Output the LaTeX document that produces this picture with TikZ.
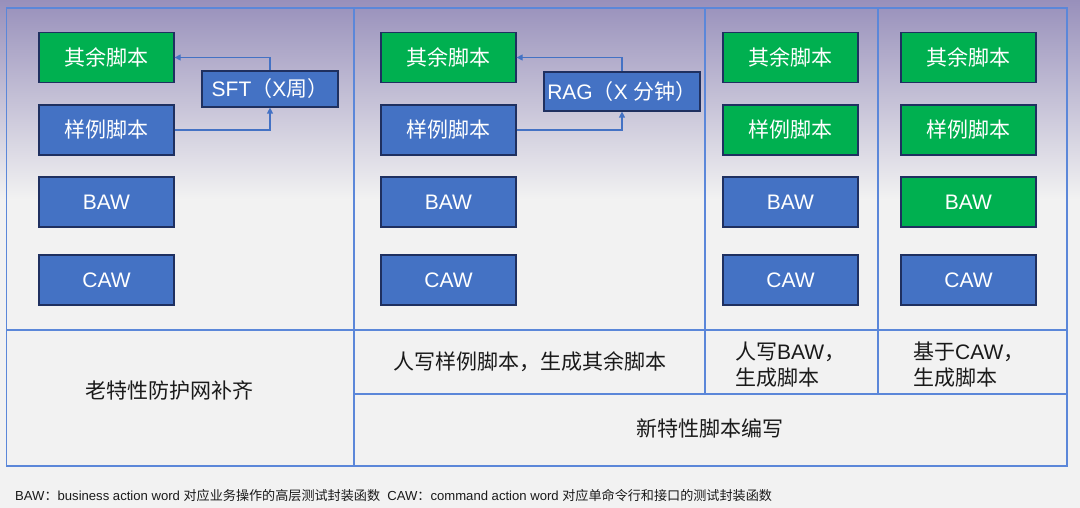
\documentclass[tikz,border=0pt]{standalone}
\usepackage{fontspec}
\setmainfont{Liberation Sans}
\newfontfamily\zh{Noto Sans CJK SC}
\usetikzlibrary{arrows.meta}
\definecolor{bgtop}{HTML}{9890BB}
\definecolor{bgbot}{HTML}{F2F2F2}
\definecolor{gbox}{HTML}{00B050}
\definecolor{bbox}{HTML}{4472C4}
\definecolor{edgec}{HTML}{1F3060}
\definecolor{framec}{HTML}{5B87D9}
\definecolor{connc}{HTML}{4472C4}
\definecolor{txt}{HTML}{1A1A1A}
\begin{document}
\begin{tikzpicture}[x=1pt,y=-1pt,
  scriptbox/.style={draw=edgec,line width=1.2pt,minimum width=135pt,minimum height=50pt,inner sep=0pt,text=white,font=\fontsize{21}{25}\selectfont},
  greenbox/.style={scriptbox,fill=gbox},
  bluebox/.style={scriptbox,fill=bbox},
  toolbox/.style={draw=edgec,line width=1.2pt,fill=bbox,inner sep=0pt,text=white,font=\fontsize{21}{25}\selectfont},
  conn/.style={draw=connc,line width=1.2pt,-{Triangle[length=6pt,width=6pt]}},
  frame/.style={draw=framec,line width=1.5pt},
  label/.style={text=txt,inner sep=0pt,font=\fontsize{21}{26}\selectfont}]
\useasboundingbox (0,0) rectangle (1080,508);
\fill[bgbot] (0,0) rectangle (1080,508);
\shade[top color=bgtop,bottom color=bgbot] (0,0) rectangle (1080,200);
% frame
\draw[frame] (6.5,8) rectangle (1067,466);
\draw[frame] (354,8) -- (354,466);
\draw[frame] (705,8) -- (705,394);
\draw[frame] (878,8) -- (878,394);
\draw[frame] (6.5,330) -- (1067,330);
\draw[frame] (354,394) -- (1067,394);
% column 1
\node[greenbox] (qa) at (106.5,57.5) {\zh 其余脚本};
\node[bluebox] (ea) at (106.5,130) {\zh 样例脚本};
\node[bluebox] (ba) at (106.5,202) {BAW};
\node[bluebox] (ca) at (106.5,280) {CAW};
\node[toolbox,minimum width=136pt,minimum height=36pt] (sft) at (270,89) {SFT{\zh（}X{\zh 周）}};
\draw[conn] (ea.east) -| (sft.south);
\draw[conn] (sft.north) |- (qa.east);
% column 2
\node[greenbox] (qb) at (448.5,57.5) {\zh 其余脚本};
\node[bluebox] (eb) at (448.5,130) {\zh 样例脚本};
\node[bluebox] (bb) at (448.5,202) {BAW};
\node[bluebox] (cb) at (448.5,280) {CAW};
\node[toolbox,minimum width=156pt,minimum height=39pt] (rag) at (622,91.5) {RAG{\zh（}X {\zh 分钟）}};
\draw[conn] (eb.east) -| (rag.south);
\draw[conn] (rag.north) |- (qb.east);
% column 3
\node[greenbox] (qc) at (790.5,57.5) {\zh 其余脚本};
\node[greenbox] (ec) at (790.5,130) {\zh 样例脚本};
\node[bluebox] (bc) at (790.5,202) {BAW};
\node[bluebox] (cc) at (790.5,280) {CAW};
% column 4
\node[greenbox] (qd) at (968.5,57.5) {\zh 其余脚本};
\node[greenbox] (ed) at (968.5,130) {\zh 样例脚本};
\node[greenbox] (bd) at (968.5,202) {BAW};
\node[bluebox] (cd) at (968.5,280) {CAW};
% labels
\node[label] (l1) at (169,390) {\zh 老特性防护网补齐};
\node[label] (l2) at (530,362) {\zh 人写样例脚本，生成其余脚本};
\node[label,anchor=west,align=left] (l3) at (735,365) {{\zh 人写}BAW{\zh ，}\\{\zh 生成脚本}};
\node[label,anchor=west,align=left] (l4) at (913,365) {{\zh 基于}CAW{\zh ，}\\{\zh 生成脚本}};
\node[label] (l5) at (710,428) {\zh 新特性脚本编写};
\node[text=txt,inner sep=0pt,anchor=west,font=\fontsize{13.1}{15}\selectfont] (note) at (15,496) {BAW{\zh ：}business action word {\zh 对应业务操作的高层测试封装函数}\ \ CAW{\zh ：}command action word {\zh 对应单命令行和接口的测试封装函数}};
\end{tikzpicture}
\end{document}
